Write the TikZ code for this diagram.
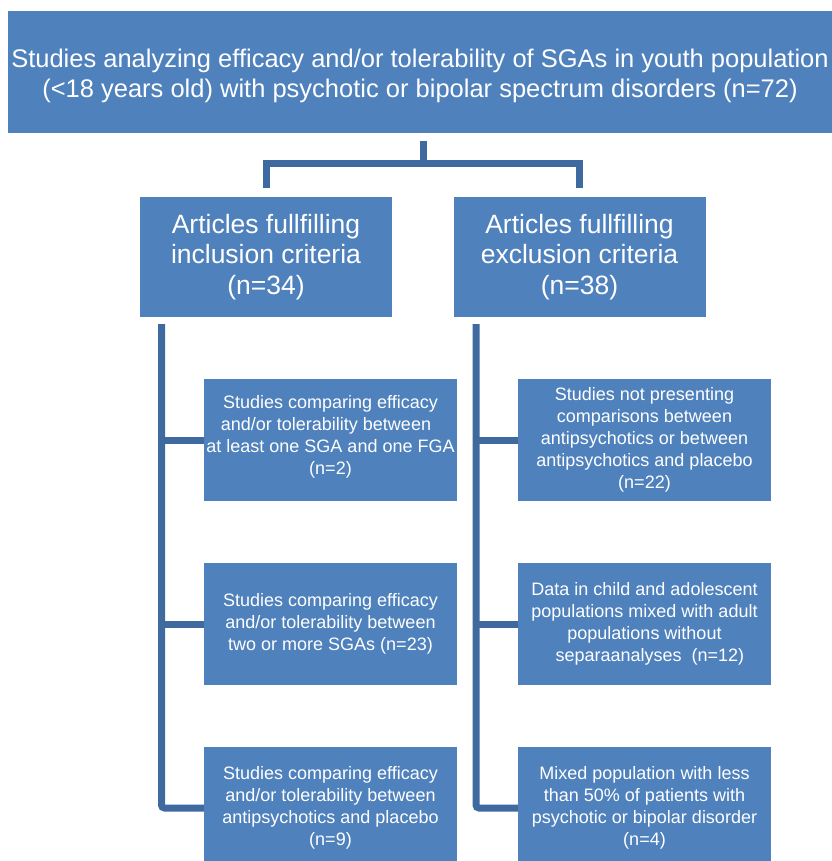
\documentclass[tikz,border=0pt]{standalone}
\usepackage{fontspec}
\setmainfont{Liberation Sans}
\usetikzlibrary{calc}
\definecolor{boxblue}{RGB}{79,129,189}
\definecolor{connblue}{RGB}{62,106,160}
\tikzset{
  box/.style={rectangle, fill=boxblue, draw=none, text=white, align=center, inner sep=0pt},
  topbox/.style={box, minimum width=824pt, minimum height=122pt, font=\fontsize{25.5}{30}\selectfont},
  midbox/.style={box, minimum width=252pt, minimum height=120pt, font=\fontsize{26.5}{30.5}\selectfont},
  smallbox/.style={box, minimum width=253pt, minimum height=122pt, font=\fontsize{18}{22}\selectfont},
  conn/.style={draw=connblue, line width=7pt, line cap=butt, line join=miter},
  spine/.style={conn, rounded corners=3pt}
}
\newcommand{\lowered}[2]{\raisebox{#1}[\height][\depth]{\begin{tabular}{@{}c@{}}#2\end{tabular}}}
\begin{document}
\begin{tikzpicture}[x=1pt,y=-1pt]
\useasboundingbox (0,0) rectangle (831,861);
\fill[white] (0,0) rectangle (831,861);

\node[topbox] (top) at (420,72) {\lowered{-5pt}{Studies analyzing efficacy and/or tolerability of SGAs in youth population\\(<18 years old) with psychotic or bipolar spectrum disorders (n=72)}};

\node[midbox] (inc) at (266,257) {Articles fullfilling\\inclusion criteria\\(n=34)};
\node[midbox] (exc) at (579.5,257) {Articles fullfilling\\exclusion criteria\\(n=38)};

\node[smallbox] (L1) at (330.5,440) {\lowered{3pt}{Studies comparing efficacy\\and/or tolerability between\hspace*{0.5em}\\at least one SGA and one FGA\\(n=2)}};
\node[smallbox] (L2) at (330.5,624) {Studies comparing efficacy\\and/or tolerability between\hspace*{0.6em}\\two or more SGAs (n=23)};
\node[smallbox] (L3) at (330.5,808) {Studies comparing efficacy\\and/or tolerability between\hspace*{0.5em}\\antipsychotics and placebo\\(n=9)};

\node[smallbox] (R1) at (644.5,440) {Studies not presenting\\comparisons between\\antipsychotics or between\\antipsychotics and placebo\\(n=22)};
\node[smallbox] (R2) at (644.5,624) {Data in child and adolescent\\populations mixed with adult\hspace*{0.6em}\\populations without\hspace*{1em}\\\hspace*{0.6em}separaanalyses\ \ (n=12)};
\node[smallbox] (R3) at (644.5,808) {Mixed population with less\\than 50\% of patients with\\psychotic or bipolar disorder\\(n=4)};

% top split connector
\coordinate (split) at (423,164);
\draw[conn] ([yshift=-8pt]top.south -| split) -- (split);
\draw[conn] ([yshift=9pt]inc.north) |- (split) -| ([yshift=9pt]exc.north);

% left spine
\coordinate (ls) at (161.5,324);
\draw[spine] (ls) |- (L3.west);
\draw[conn] (ls |- L1.west) -- (L1.west);
\draw[conn] (ls |- L2.west) -- (L2.west);

% right spine
\coordinate (rs) at (476,324);
\draw[spine] (rs) |- (R3.west);
\draw[conn] (rs |- R1.west) -- (R1.west);
\draw[conn] (rs |- R2.west) -- (R2.west);
\end{tikzpicture}
\end{document}
